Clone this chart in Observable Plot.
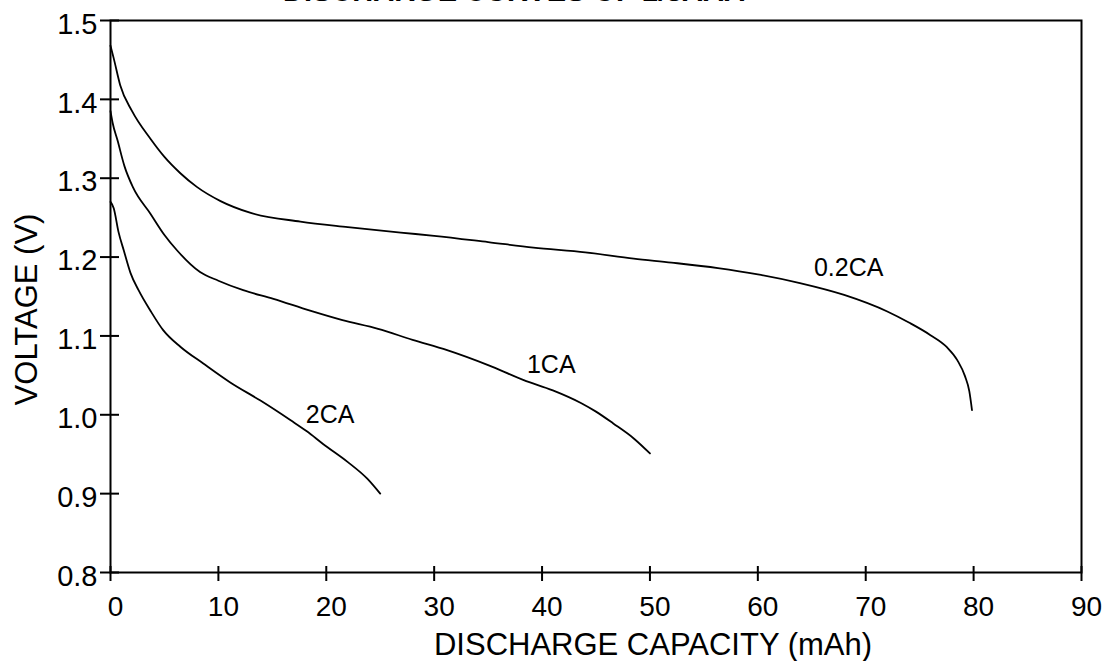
<!DOCTYPE html>
<html>
<head>
<meta charset="utf-8">
<script src="https://cdn.jsdelivr.net/npm/d3@7"></script>
<script src="https://cdn.jsdelivr.net/npm/@observablehq/plot@0.6"></script>
<style>
  html, body { margin: 0; padding: 0; background: #fff; overflow: hidden; }
  #wrap { position: relative; width: 1108px; height: 661px; }
  #title { position: absolute; left: 283px; top: -23px; font: bold 29px "Liberation Sans", Arial, sans-serif; line-height: 29px; white-space: nowrap; color: #000; }
</style>
</head>
<body>
<div id="wrap">
  <div id="title">DISCHARGE CURVES OF 1/3AAA</div>
  <div id="chart"></div>
</div>
<script>
const xTicks = [0, 10, 20, 30, 40, 50, 60, 70, 80, 90];
const yTicks = [0.8, 0.9, 1.0, 1.1, 1.2, 1.3, 1.4, 1.5];
const xLabel = "DISCHARGE CAPACITY (mAh)";
const yLabel = "VOLTAGE (V)";

const cap02 = [0, 0.3, 0.9, 2, 3.7, 5, 6.5, 8, 10.2, 13, 17.6, 22, 26.9, 30, 35, 39.2, 44, 48.5, 52, 56.3, 60, 63.9, 68, 72, 74, 76, 77.5, 78.5, 79.2, 79.6, 79.85];
const volt02 = [1.468, 1.452, 1.418, 1.385, 1.350, 1.327, 1.306, 1.289, 1.271, 1.256, 1.245, 1.238, 1.231, 1.227, 1.219, 1.212, 1.206, 1.198, 1.193, 1.186, 1.178, 1.167, 1.152, 1.131, 1.117, 1.101, 1.086, 1.069, 1.049, 1.030, 1.006];

const cap1 = [0, 0.2, 0.65, 1.3, 2.1, 3.7, 5, 6.2, 8.3, 10, 12.3, 15.1, 18.5, 21.5, 24.8, 28, 31.2, 35, 38.3, 41, 43.6, 45, 46.6, 48.5, 50.0];
const volt1 = [1.385, 1.37, 1.348, 1.315, 1.288, 1.255, 1.228, 1.208, 1.181, 1.17, 1.158, 1.147, 1.132, 1.12, 1.109, 1.095, 1.082, 1.063, 1.044, 1.031, 1.015, 1.004, 0.989, 0.970, 0.951];

const cap2 = [0, 0.3, 0.74, 1.24, 1.85, 2.6, 3.7, 4.9, 6.5, 8.6, 11.1, 13.9, 16.7, 18.2, 19.7, 22.0, 23.8, 25.0];
const volt2 = [1.27, 1.262, 1.232, 1.208, 1.180, 1.158, 1.132, 1.107, 1.086, 1.065, 1.041, 1.018, 0.993, 0.979, 0.963, 0.940, 0.919, 0.900];

const seriesNames = ["0.2CA", "1CA", "2CA"];
const labelX = [65.2, 38.6, 18.1];
const labelY = [1.186, 1.063, 1.0];

const toRows = (name, xs, ys) => xs.map((x, i) => ({series: name, x, y: ys[i]}));
const rows = [
  ...toRows(seriesNames[0], cap02, volt02),
  ...toRows(seriesNames[1], cap1, volt1),
  ...toRows(seriesNames[2], cap2, volt2)
];
const labels = seriesNames.map((s, i) => ({text: s, x: labelX[i], y: labelY[i]}));

const chart = Plot.plot({
  width: 1108,
  height: 661,
  marginLeft: 110,
  marginRight: 27,
  marginTop: 20,
  marginBottom: 89,
  style: {fontFamily: '"Liberation Sans", Arial, sans-serif', color: "#000", background: "#fff"},
  x: {domain: [0, 90]},
  y: {domain: [0.8, 1.5]},
  marks: [
    Plot.frame({stroke: "#000", strokeWidth: 2}),
    Plot.axisY({ticks: yTicks, tickSize: 19, dx: 9, strokeWidth: 2, text: null, label: null}),
    Plot.axisY({ticks: yTicks, tickSize: 0, tickPadding: 13, dy: 4, fontSize: 29, tickFormat: d3.format(".1f"), label: null}),
    Plot.axisX({ticks: xTicks, tickSize: 15, dy: -6, strokeWidth: 2, text: null, label: null}),
    Plot.axisX({ticks: xTicks, tickSize: 0, tickPadding: 24, dx: 5, fontSize: 28, label: null}),
    Plot.line(rows, {x: "x", y: "y", z: "series", stroke: "#000", strokeWidth: 1.8, curve: "monotone-x"}),
    Plot.text(labels, {x: "x", y: "y", text: "text", textAnchor: "start", fontSize: 25}),
    Plot.text([xLabel], {frameAnchor: "bottom", textAnchor: "middle", dx: 57, dy: 82, fontSize: 31, lineAnchor: "bottom"}),
    Plot.text([yLabel], {frameAnchor: "left", textAnchor: "middle", dx: -83, dy: 13, rotate: -90, fontSize: 31})
  ]
});
document.getElementById("chart").appendChild(chart);
</script>
</body>
</html>
